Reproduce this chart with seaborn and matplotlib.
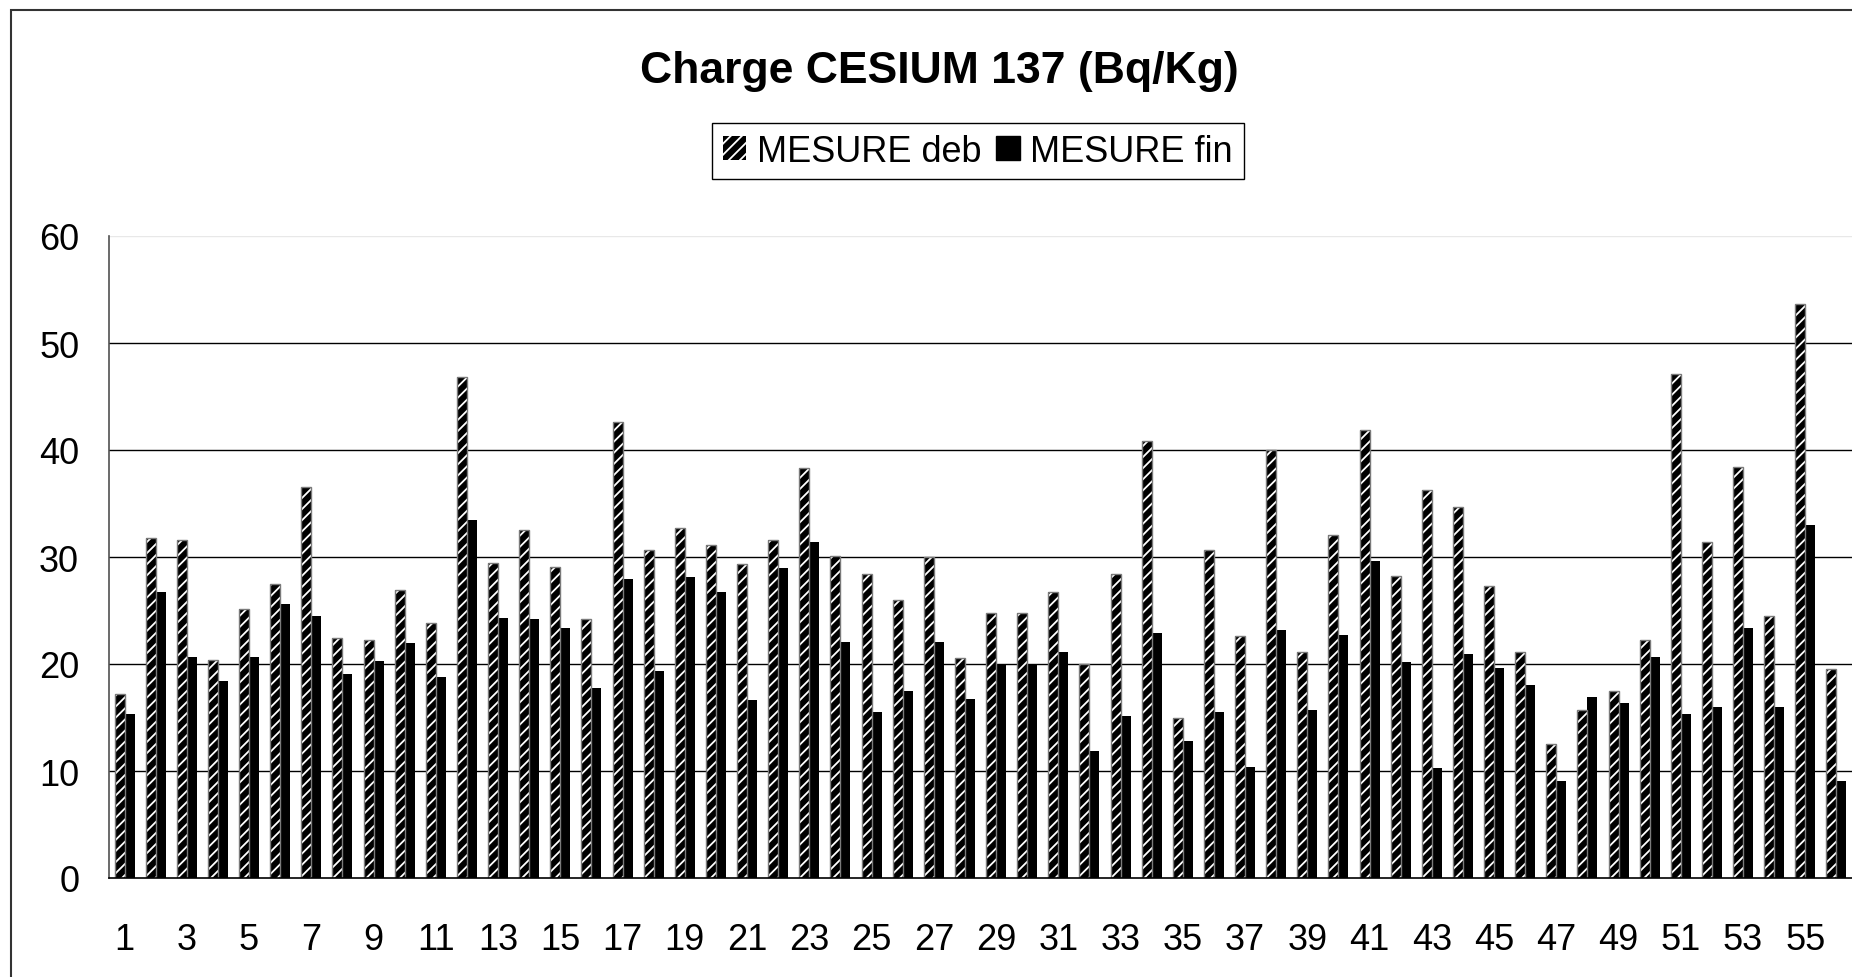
import numpy as np
import pandas as pd
import seaborn as sns
import matplotlib.pyplot as plt
from matplotlib.patches import Patch, Rectangle

# ---- data ----
categories = [str(i) for i in range(1, 57)]
mesure_deb = [17.2, 31.8, 31.6, 20.4, 25.1, 27.5, 36.5, 22.4, 22.2, 26.9,
              23.8, 46.8, 29.4, 32.5, 29.1, 24.2, 42.6, 30.7, 32.7, 31.1,
              29.3, 31.6, 38.3, 30.1, 28.4, 26.0, 30.0, 20.6, 24.75, 24.75,
              26.7, 20.0, 28.4, 40.8, 15.0, 30.7, 22.6, 40.0, 21.1, 32.1,
              41.9, 28.2, 36.3, 34.7, 27.3, 21.1, 12.5, 15.7, 17.5, 22.2,
              47.1, 31.4, 38.4, 24.5, 53.6, 19.5]
mesure_fin = [15.3, 26.7, 20.7, 18.4, 20.7, 25.6, 24.5, 19.1, 20.3, 22.0,
              18.8, 33.5, 24.3, 24.2, 23.4, 17.8, 27.9, 19.3, 28.1, 26.7,
              16.6, 29.0, 31.4, 22.1, 15.5, 17.5, 22.1, 16.7, 20.0, 20.0,
              21.1, 11.9, 15.1, 22.9, 12.8, 15.5, 10.4, 23.2, 15.7, 22.7,
              29.6, 20.2, 10.25, 20.9, 19.6, 18.0, 9.1, 16.9, 16.4, 20.7,
              15.3, 16.0, 23.4, 16.0, 33.0, 9.1]
series = ['MESURE deb', 'MESURE fin']
yticks = [0, 10, 20, 30, 40, 50, 60]

df = pd.DataFrame({
    'cat': categories * 2,
    'value': mesure_deb + mesure_fin,
    'serie': [series[0]] * len(categories) + [series[1]] * len(categories),
})

sns.set_style('white')
plt.rcParams['font.family'] = ['Liberation Sans', 'DejaVu Sans']
plt.rcParams['text.color'] = 'black'
plt.rcParams['xtick.color'] = 'black'
plt.rcParams['ytick.color'] = 'black'
plt.rcParams['hatch.linewidth'] = 1.3

fig = plt.figure(figsize=(18.52, 9.78), dpi=100)
ax = fig.add_axes([109 / 1852, 1 - 879 / 978, 1743 / 1852, 642 / 978])

sns.barplot(data=df, x='cat', y='value', hue='serie', order=categories,
            hue_order=series, palette=['black', 'black'], width=0.64,
            errorbar=None, legend=False, ax=ax, saturation=1)

# hatched look for the first series, with a thin grey outline
for bar in ax.containers[0]:
    bar.set_facecolor('black')
    bar.set_edgecolor('white')
    bar.set_hatch('///')
    bar.set_linewidth(0)
    ax.add_patch(Rectangle(bar.get_xy(), bar.get_width(), bar.get_height(),
                           fill=False, edgecolor='#7a7a7a', linewidth=1.0))
for bar in ax.containers[1]:
    bar.set_linewidth(0)

# ---- axes styling ----
ax.set_xlim(-0.5, len(categories) - 0.5)
ax.set_ylim(0, 60)
ax.set_yticks(yticks)
ax.set_yticklabels([str(v) for v in yticks], fontsize=26)
ax.set_xticks(range(0, len(categories), 2))
ax.set_xticklabels(categories[::2], fontsize=26)
ax.set_xticks(np.arange(-0.5, len(categories), 1), minor=True)
ax.tick_params(axis='x', which='major', length=0, pad=32)
ax.tick_params(axis='x', which='minor', length=9, width=1, color='#404040', direction='out')
ax.tick_params(axis='y', which='major', length=8.5, width=1, color='#404040', direction='out', pad=13)
ax.set_xlabel('')
ax.set_ylabel('')

ax.yaxis.grid(True, color='black', linewidth=1)
ax.set_axisbelow(True)
ax.get_ygridlines()[-1].set_color('#e8e8e8')
ax.get_ygridlines()[0].set_visible(False)

for side in ['top', 'right']:
    ax.spines[side].set_visible(False)
ax.spines['left'].set_color('#505050')
ax.spines['bottom'].set_color('black')
ax.spines['left'].set_linewidth(1.2)
ax.spines['bottom'].set_linewidth(1.2)

# ---- title & legend ----
fig.text(939 / 1852, 1 - 71 / 978, 'Charge CESIUM 137 (Bq/Kg)', ha='center', va='center',
         fontsize=32, fontweight='bold')

handles = [Patch(facecolor='black', edgecolor='white', hatch='///', linewidth=0, label=series[0]),
           Patch(facecolor='black', edgecolor='black', label=series[1])]
leg = fig.legend(handles=handles, loc='center', bbox_to_anchor=(978 / 1852, 1 - 152 / 978),
                 ncol=2, fontsize=26, frameon=True, fancybox=False, framealpha=1,
                 edgecolor='black', handlelength=0.65, handleheight=0.65, handletextpad=0.3,
                 columnspacing=0.4, borderpad=0.3)
leg.get_frame().set_linewidth(1.0)

# outer chart frame (only left and top edges are inside the picture)
fig.patches.append(Rectangle((11 / 1852, -0.1), 1.2, 1.1 - 11 / 978, transform=fig.transFigure,
                             fill=False, edgecolor='#333333', linewidth=1.5, figure=fig))

fig.savefig('out.png', dpi=100)
